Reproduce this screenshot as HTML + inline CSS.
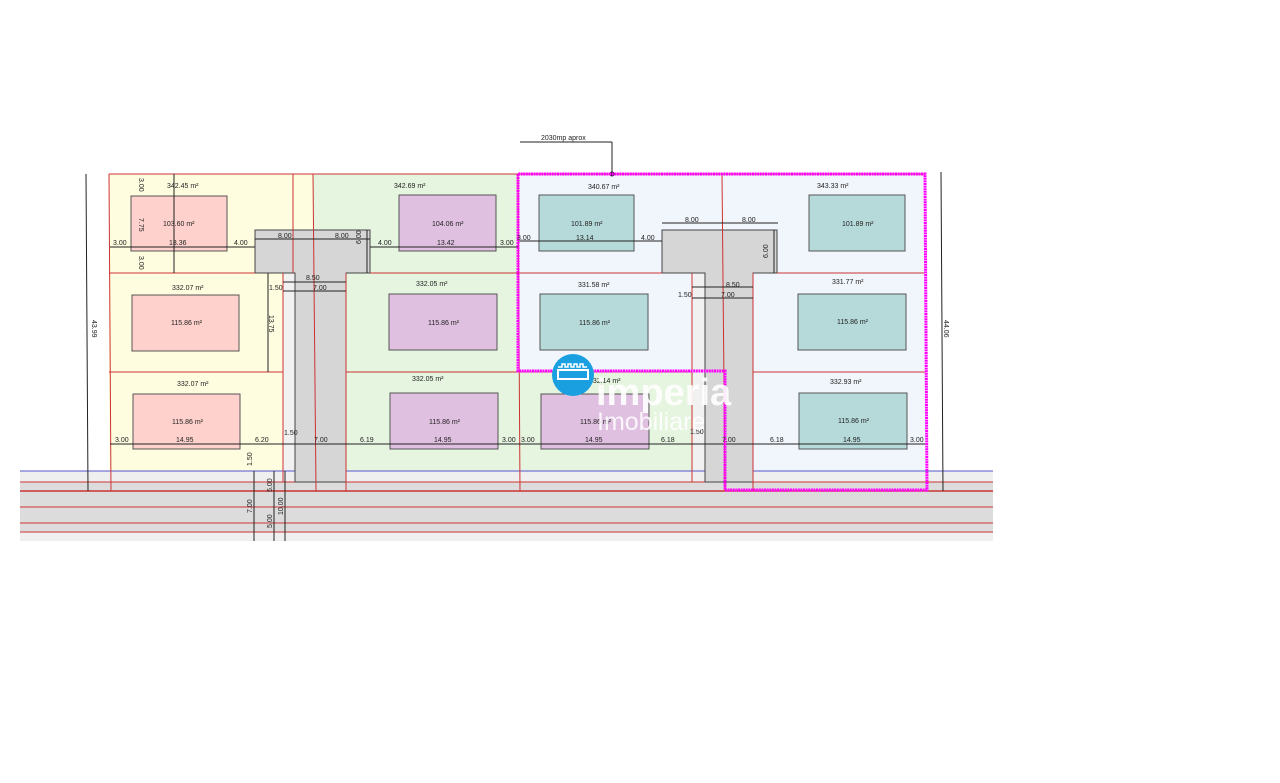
<!DOCTYPE html>
<html><head><meta charset="utf-8"><style>
html,body{margin:0;padding:0;background:#fff;width:1280px;height:783px;overflow:hidden}
svg{display:block}
text{font-family:"Liberation Sans",sans-serif;font-size:7px;fill:#222}
</style></head><body>
<svg width="1280" height="783" viewBox="0 0 1280 783" xmlns="http://www.w3.org/2000/svg">
<!-- road -->
<rect x="20" y="471" width="973" height="70" fill="#efefef"/>
<rect x="20" y="482" width="973" height="50" fill="#dcdcdc"/>
<!-- left yellow -->
<rect x="109" y="174" width="204" height="99" fill="#fffde0"/>
<rect x="109" y="273" width="174" height="198" fill="#fffde0"/>
<rect x="283" y="273" width="12" height="198" fill="#f1f1f1"/>
<!-- green -->
<rect x="313" y="174" width="205" height="99" fill="#e6f5e0"/>
<rect x="346" y="273" width="172" height="198" fill="#e6f5e0"/>
<rect x="518" y="372" width="174" height="99" fill="#e6f5e0"/>
<!-- blue -->
<rect x="518" y="174" width="407" height="99" fill="#f1f6fc"/>
<rect x="518" y="273" width="174" height="99" fill="#f1f6fc"/>
<rect x="753" y="273" width="172" height="198" fill="#f1f6fc"/>
<rect x="692" y="273" width="13" height="198" fill="#f1f1f1"/>
<line x1="20" y1="471" x2="993" y2="471" stroke="#5555cc" stroke-width="1"/>
<g stroke="#cc3333" stroke-width="1">
<line x1="20" y1="482" x2="993" y2="482"/>
<line x1="20" y1="491" x2="993" y2="491" stroke-width="1.5"/>
<line x1="20" y1="507" x2="993" y2="507"/>
<line x1="20" y1="523" x2="993" y2="523"/>
<line x1="20" y1="532" x2="993" y2="532"/>
</g>
<!-- gray T roads -->
<g fill="#d6d6d6" stroke="#444" stroke-width="1">
<path d="M255 230H370V273H346V482H295V273H255Z"/>
<path d="M662 230H777V273H753V482H705V273H662Z"/>
</g>
<!-- red plot lines -->
<g stroke="#cc3333" stroke-width="1" fill="none">
<line x1="109" y1="174" x2="925" y2="174"/>
<line x1="109" y1="174" x2="111" y2="491"/>
<line x1="109" y1="273" x2="255" y2="273"/>
<line x1="109" y1="372" x2="283" y2="372"/>
<line x1="283" y1="273" x2="283" y2="482"/>
<line x1="293" y1="174" x2="293" y2="273"/>
<line x1="313" y1="174" x2="316" y2="491"/>
<line x1="346" y1="273" x2="346" y2="491"/>
<line x1="370" y1="273" x2="518" y2="273"/>
<line x1="346" y1="372" x2="692" y2="372"/>
<line x1="518" y1="174" x2="520" y2="491"/>
<line x1="518" y1="273" x2="662" y2="273"/>
<line x1="692" y1="273" x2="692" y2="482"/>
<line x1="722" y1="174" x2="725" y2="491"/>
<line x1="777" y1="273" x2="925" y2="273"/>
<line x1="753" y1="372" x2="925" y2="372"/>
<line x1="753" y1="273" x2="753" y2="491"/>
</g>
<!-- houses -->
<g stroke="#555" stroke-width="1">
<rect x="131" y="196" width="96" height="55" fill="#ffd1cc"/>
<rect x="132" y="295" width="107" height="56" fill="#ffd1cc"/>
<rect x="133" y="394" width="107" height="55" fill="#ffd1cc"/>
<rect x="399" y="195" width="97" height="56" fill="#e0c0e0"/>
<rect x="389" y="294" width="108" height="56" fill="#e0c0e0"/>
<rect x="390" y="393" width="108" height="56" fill="#e0c0e0"/>
<rect x="541" y="394" width="108" height="55" fill="#e0c0e0"/>
<rect x="539" y="195" width="95" height="56" fill="#b6dada"/>
<rect x="540" y="294" width="108" height="56" fill="#b6dada"/>
<rect x="809" y="195" width="96" height="56" fill="#b6dada"/>
<rect x="798" y="294" width="108" height="56" fill="#b6dada"/>
<rect x="799" y="393" width="108" height="56" fill="#b6dada"/>
</g>
<!-- dimension lines -->
<g stroke="#222" stroke-width="1" fill="none">
<line x1="86" y1="174" x2="88" y2="491"/>
<line x1="941" y1="172" x2="943" y2="491"/>
<line x1="110" y1="247" x2="255" y2="247"/>
<line x1="255" y1="239" x2="370" y2="239"/>
<line x1="370" y1="247" x2="518" y2="247"/>
<line x1="518" y1="241" x2="662" y2="241"/>
<line x1="662" y1="223" x2="778" y2="223"/>
<line x1="174" y1="174" x2="174" y2="273"/>
<line x1="367" y1="230" x2="367" y2="273"/>
<line x1="774" y1="230" x2="774" y2="273"/>
<line x1="268" y1="273" x2="268" y2="372"/>
<line x1="283" y1="282" x2="346" y2="282"/>
<line x1="283" y1="291" x2="346" y2="291"/>
<line x1="692" y1="287" x2="753" y2="287"/>
<line x1="692" y1="298" x2="753" y2="298"/>
<line x1="110" y1="444" x2="925" y2="444"/>
<line x1="254" y1="471" x2="254" y2="541"/>
<line x1="274" y1="471" x2="274" y2="541"/>
<line x1="285" y1="471" x2="285" y2="541"/>
<line x1="520" y1="142" x2="612" y2="142"/>
<line x1="612" y1="142" x2="612" y2="174"/>
</g>
<circle cx="612" cy="174" r="2.5" fill="#222"/>
<!-- magenta outline -->
<path d="M518 174H925L927 490H725V371H518Z" fill="none" stroke="#ff00ff" stroke-width="3" stroke-dasharray="2 0.6"/>
<!-- labels -->
<text x="541" y="140">2030mp aprox</text>
<text x="167" y="188">342.45 m²</text>
<text x="394" y="188">342.69 m²</text>
<text x="588" y="189">340.67 m²</text>
<text x="817" y="188">343.33 m²</text>
<text x="172" y="290">332.07 m²</text>
<text x="416" y="286">332.05 m²</text>
<text x="578" y="287">331.58 m²</text>
<text x="832" y="284">331.77 m²</text>
<text x="177" y="386">332.07 m²</text>
<text x="412" y="381">332.05 m²</text>
<text x="589" y="383">332.14 m²</text>
<text x="830" y="384">332.93 m²</text>
<text x="163" y="226">103.60 m²</text>
<text x="171" y="325">115.86 m²</text>
<text x="172" y="424">115.86 m²</text>
<text x="432" y="226">104.06 m²</text>
<text x="428" y="325">115.86 m²</text>
<text x="429" y="424">115.86 m²</text>
<text x="580" y="424">115.86 m²</text>
<text x="571" y="226">101.89 m²</text>
<text x="579" y="325">115.86 m²</text>
<text x="842" y="226">101.89 m²</text>
<text x="837" y="324">115.86 m²</text>
<text x="838" y="423">115.86 m²</text>
<text x="113" y="245">3.00</text><text x="169" y="245">13.36</text><text x="234" y="245">4.00</text>
<text x="278" y="238">8.00</text><text x="335" y="238">8.00</text>
<text x="378" y="245">4.00</text><text x="437" y="245">13.42</text><text x="500" y="245">3.00</text>
<text x="517" y="240">3.00</text><text x="576" y="240">13.14</text><text x="641" y="240">4.00</text>
<text x="685" y="222">8.00</text><text x="742" y="222">8.00</text>
<text x="306" y="280">8.50</text><text x="313" y="290">7.00</text><text x="269" y="290">1.50</text>
<text x="726" y="287">8.50</text><text x="721" y="297">7.00</text><text x="678" y="297">1.50</text>
<text x="115" y="442">3.00</text><text x="176" y="442">14.95</text><text x="255" y="442">6.20</text>
<text x="284" y="435">1.50</text><text x="314" y="442">7.00</text><text x="360" y="442">6.19</text>
<text x="434" y="442">14.95</text><text x="502" y="442">3.00</text><text x="521" y="442">3.00</text>
<text x="585" y="442">14.95</text><text x="661" y="442">6.18</text><text x="690" y="434">1.50</text>
<text x="722" y="442">7.00</text><text x="770" y="442">6.18</text><text x="843" y="442">14.95</text><text x="910" y="442">3.00</text>
<text transform="translate(92,320) rotate(90)">43.99</text>
<text transform="translate(944,320) rotate(90)">44.06</text>
<text transform="translate(139,178) rotate(90)">3.00</text>
<text transform="translate(139,218) rotate(90)">7.75</text>
<text transform="translate(139,256) rotate(90)">3.00</text>
<text transform="translate(269,315) rotate(90)">13.75</text>
<text transform="translate(361,244) rotate(-90)">6.00</text>
<text transform="translate(768,258) rotate(-90)">6.00</text>
<text transform="translate(252,466) rotate(-90)">1.50</text>
<text transform="translate(252,513) rotate(-90)">7.00</text>
<text transform="translate(272,492) rotate(-90)">5.00</text>
<text transform="translate(272,528) rotate(-90)">5.00</text>
<text transform="translate(283,515) rotate(-90)">10.00</text>
<!-- watermark -->
<circle cx="573" cy="375" r="21" fill="#1a9fe0"/>
<rect x="558" y="370" width="30" height="9" fill="none" stroke="#fff" stroke-width="2"/>
<path d="M558 367h4v-3h3v3h3v-3h3v3h3v-3h3v3h3v-3h3v3h4" fill="none" stroke="#fff" stroke-width="1.5"/>
<text x="596" y="405" style="font-size:38px;font-weight:bold;fill:#fff;fill-opacity:0.9">imperia</text>
<text x="597" y="430" style="font-size:25px;fill:#fff;fill-opacity:0.85">Imobiliare</text>
</svg>
</body></html>
